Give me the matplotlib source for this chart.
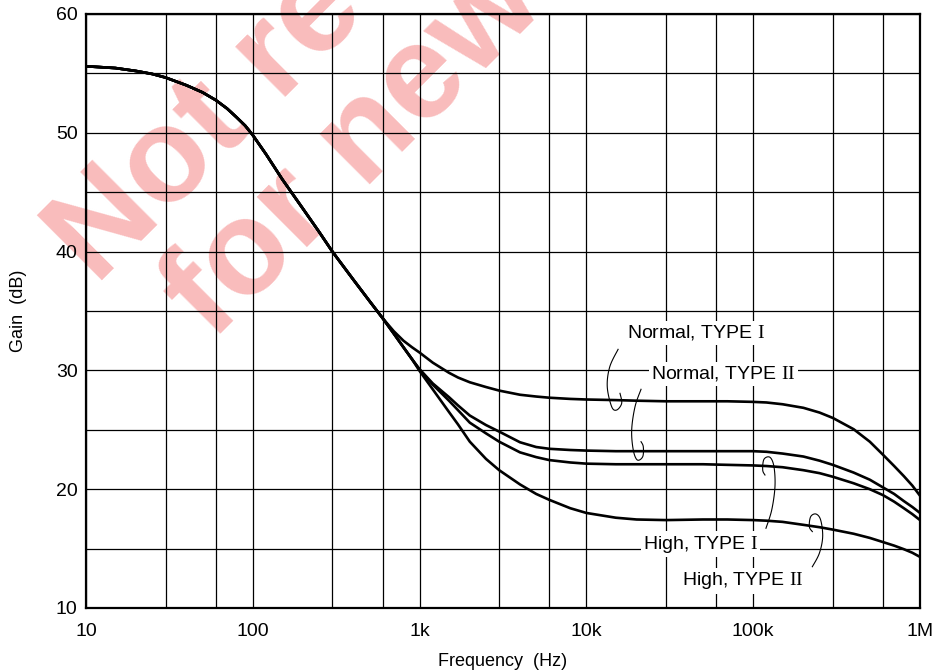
import numpy as np
import matplotlib
matplotlib.use("Agg")
import matplotlib.pyplot as plt
from matplotlib.ticker import FixedLocator, NullFormatter, FixedFormatter

plt.rcParams['font.family'] = ['Liberation Sans', 'DejaVu Sans']
plt.rcParams['mathtext.fontset'] = 'custom'
plt.rcParams['mathtext.rm'] = 'Liberation Serif'

# ---- data ----
freq = [10, 15, 20, 25, 30, 40, 50, 60, 70, 80, 90, 100, 120, 150, 200, 250, 300, 400, 500, 600,
        700, 800, 900, 1e3, 1.2e3, 1.5e3, 1.7e3, 2e3, 2.5e3, 3e3, 4e3, 5e3, 6e3, 8e3,
        1e4, 1.5e4, 2e4, 3e4, 5e4, 7e4, 1e5, 1.2e5, 1.5e5, 2e5, 2.5e5, 3e5, 4e5, 5e5,
        6e5, 7e5, 8e5, 9e5, 1e6]

# 10 Hz ... 600 Hz: all four curves coincide
low_common = [55.6, 55.45, 55.2, 54.95, 54.65, 54.0, 53.4, 52.75, 52.05, 51.3, 50.6, 49.8,
              48.2, 46.1, 43.6, 41.65, 40.0, 37.65, 35.85, 34.4]

normal_type1 = low_common + [33.3, 32.5, 31.95, 31.5, 30.65, 29.8, 29.4, 29.0, 28.6, 28.3,
                             27.95, 27.8, 27.7, 27.6, 27.55, 27.5, 27.45, 27.4, 27.4, 27.4,
                             27.35, 27.3, 27.15, 26.85, 26.45, 26.0, 25.05, 24.0, 22.9, 21.95,
                             21.1, 20.3, 19.45]
normal_type2 = low_common + [33.1, 31.95, 30.95, 30.1, 28.9, 27.75, 27.05, 26.2, 25.4, 24.85,
                             23.95, 23.55, 23.4, 23.3, 23.25, 23.2, 23.2, 23.2, 23.2, 23.2,
                             23.2, 23.15, 23.0, 22.75, 22.4, 22.05, 21.4, 20.8, 20.15, 19.6,
                             19.0, 18.5, 18.0]
high_type1 = low_common + [33.1, 31.95, 30.95, 30.05, 28.8, 27.45, 26.65, 25.6, 24.7, 24.0,
                           23.1, 22.7, 22.45, 22.25, 22.15, 22.1, 22.1, 22.1, 22.1, 22.05,
                           22.0, 21.95, 21.85, 21.6, 21.35, 21.05, 20.5, 20.0, 19.5, 18.95,
                           18.4, 17.9, 17.4]
high_type2 = low_common + [33.1, 31.95, 30.95, 29.95, 28.4, 26.5, 25.45, 24.0, 22.55, 21.6,
                           20.4, 19.6, 19.1, 18.4, 18.0, 17.6, 17.45, 17.4, 17.45, 17.45,
                           17.4, 17.35, 17.25, 17.0, 16.8, 16.6, 16.25, 15.9, 15.55, 15.25,
                           14.95, 14.65, 14.3]

series_labels = [r"Normal, TYPE $\mathrm{I}$", r"Normal, TYPE $\mathrm{II}$",
                 r"High, TYPE $\mathrm{I}$", r"High, TYPE $\mathrm{II}$"]

x_major = [10, 100, 1e3, 1e4, 1e5, 1e6]
x_major_labels = ["10", "100", "1k", "10k", "100k", "1M"]
x_minor = [30, 60, 300, 600, 3e3, 6e3, 3e4, 6e4, 3e5, 6e5]
y_major = [10, 20, 30, 40, 50, 60]
y_minor = [15, 25, 35, 45, 55]

# ---- figure ----
fig = plt.figure(figsize=(9.42, 6.71), dpi=100)
ax = fig.add_axes([86/942, 1 - 608/671, 834/942, 594/671])
ax.patch.set_visible(False)

# watermark (behind grid)
wm_kw = dict(fontsize=96, fontweight='bold', color='#f9bcbc', rotation=45,
             rotation_mode='anchor', ha='left', va='baseline', zorder=-5)
fig.text(96/942, 1 - 286/671, "Not recommended", **wm_kw)
fig.text(212/942, 1 - 342/671, "for new designs", **wm_kw)

ax.set_xscale('log')
ax.set_xlim(10, 1e6)
ax.set_ylim(10, 60)

ax.xaxis.set_major_locator(FixedLocator(x_major))
ax.xaxis.set_major_formatter(FixedFormatter(x_major_labels))
ax.xaxis.set_minor_locator(FixedLocator(x_minor))
ax.xaxis.set_minor_formatter(NullFormatter())
ax.yaxis.set_major_locator(FixedLocator(y_major))
ax.yaxis.set_minor_locator(FixedLocator(y_minor))

ax.grid(True, which='both', color='black', linewidth=0.9, zorder=1)
ax.set_axisbelow(True)
ax.tick_params(which='both', length=0)
ax.tick_params(axis='x', pad=11, labelsize=14)
ax.tick_params(axis='y', pad=6, labelsize=14)
for s in ax.spines.values():
    s.set_linewidth(1.6)

for ys in [normal_type1, normal_type2, high_type1, high_type2]:
    ax.plot(freq, ys, color='black', linewidth=1.9, solid_joinstyle='round', zorder=3)

ax.set_xlabel("Frequency  (Hz)", fontsize=13, labelpad=9)
ax.set_ylabel("Gain  (dB)", fontsize=13, labelpad=21)

# annotation labels
label_pos = [(0.7314, 0.463), (0.7644, 0.394), (0.7368, 0.1077), (0.7872, 0.0455)]
for (tx, ty), lab in zip(label_pos, series_labels):
    ax.text(tx, ty, lab, transform=ax.transAxes, ha='center', va='center',
            fontsize=14, zorder=4,
            bbox=dict(facecolor='white', edgecolor='none', pad=1.5))

# curly leader lines (axes fraction)
leaders = [
    [(0.638, 0.4355), (0.628, 0.406), (0.625, 0.3726), (0.6303, 0.3389),
     (0.6363, 0.3333), (0.6423, 0.3446), (0.6403, 0.3614)],
    [(0.6655, 0.3682), (0.6583, 0.3389), (0.6543, 0.2997), (0.6562, 0.266),
     (0.661, 0.2492), (0.6675, 0.2547), (0.6682, 0.2715), (0.6655, 0.280)],
    [(0.8153, 0.1342), (0.8222, 0.165), (0.8261, 0.2042), (0.8249, 0.2379),
     (0.8201, 0.2537), (0.8129, 0.2503), (0.8114, 0.2323), (0.8141, 0.2239)],
    [(0.8709, 0.0695), (0.8793, 0.0921), (0.8833, 0.12), (0.8809, 0.1481),
     (0.8753, 0.1582), (0.8689, 0.1537), (0.8673, 0.137), (0.8709, 0.1286)],
]


def smooth(pts, n=12):
    p = np.array(pts)
    p = np.vstack([p[0], p, p[-1]])
    out = []
    for i in range(1, len(p) - 2):
        p0, p1, p2, p3 = p[i - 1], p[i], p[i + 1], p[i + 2]
        for t in np.linspace(0, 1, n, endpoint=False):
            t2, t3 = t * t, t * t * t
            out.append(0.5 * ((2 * p1) + (-p0 + p2) * t + (2 * p0 - 5 * p1 + 4 * p2 - p3) * t2
                              + (-p0 + 3 * p1 - 3 * p2 + p3) * t3))
    out.append(p[-2])
    return np.array(out)


for pts in leaders:
    s = smooth(pts)
    ax.plot(s[:, 0], s[:, 1], transform=ax.transAxes, color='black', linewidth=0.8, zorder=5)

fig.savefig("out.png", dpi=100, facecolor='white')
